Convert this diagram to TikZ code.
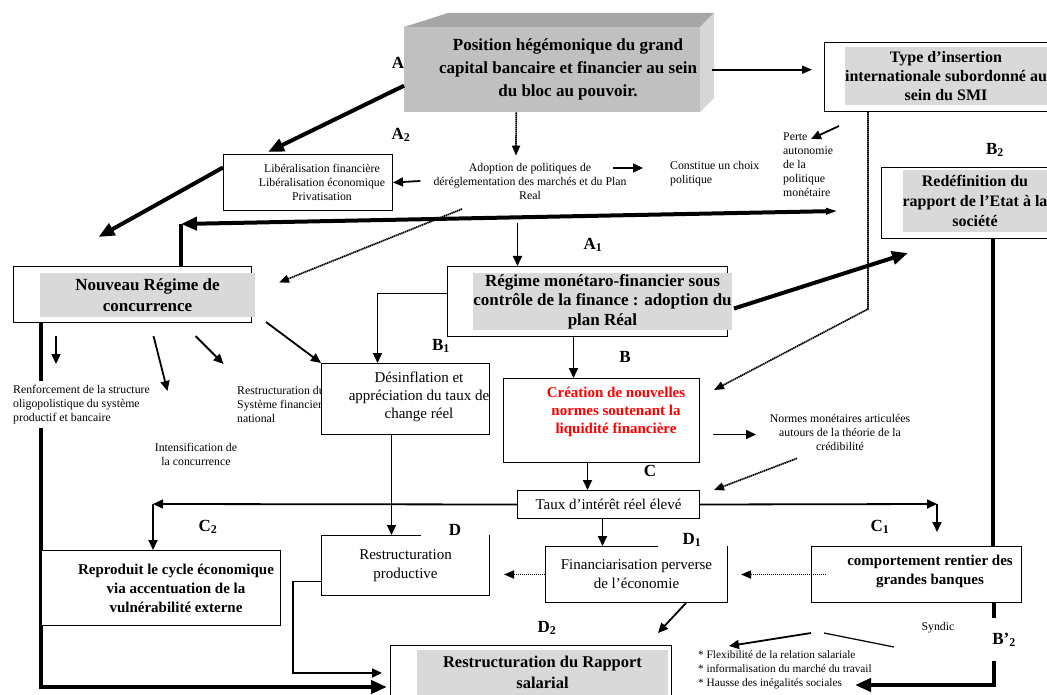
\documentclass[tikz,border=0pt]{standalone}
\usepackage{fontspec}
\setmainfont{Liberation Serif}
\usetikzlibrary{arrows.meta,positioning,backgrounds}
\definecolor{frontgrey}{HTML}{C0C0C0}
\definecolor{topgrey}{HTML}{A6A6A6}
\definecolor{sidegrey}{HTML}{D6D6D6}
\definecolor{shadegrey}{HTML}{D9D9D9}

\begin{document}
\begin{tikzpicture}[x=1pt,y=-1pt,
  frame/.style={draw,fill=white,line width=1pt,inner sep=0pt,anchor=north west},
  shade/.style={fill=shadegrey,inner sep=0pt,align=center},
  txt/.style={font=\fontsize{15}{18}\selectfont,align=center,inner sep=1pt},
  btxt/.style={font=\fontsize{15}{19}\selectfont\bfseries,align=center,inner sep=1pt},
  note/.style={font=\fontsize{11.8}{14}\selectfont,align=center,inner sep=1pt},
  lab/.style={font=\fontsize{17}{17}\selectfont\bfseries,inner sep=2pt},
  arr/.style={-{Triangle[length=10pt,width=9pt]},line width=1.8pt},
  bigarr/.style={-{Triangle[length=16pt,width=13pt]},line width=4pt},
  bigline/.style={line width=4pt},
  dotarr/.style={-{Triangle[length=10pt,width=8pt]},line width=1.7pt,dash pattern=on 1.4pt off 0.6pt}]
  \useasboundingbox (0,0) rectangle (1047,695);

  % hegemonic block, a box seen with depth
  \fill[topgrey] (404,27) -- (448,13) -- (714,13) -- (700,27) -- cycle;
  \fill[sidegrey] (700,27) -- (714,13) -- (714,98) -- (700,112) -- cycle;
  \node[fill=frontgrey,inner sep=0pt,anchor=north west,minimum width=296pt,minimum height=85pt] (pos) at (404,27) {};
  \node[font=\fontsize{17}{23}\selectfont\bfseries,align=center] (postxt) at (568,69)
    {Position hégémonique du grand\\capital bancaire et financier au sein\\du bloc au pouvoir.};

  % boxes
  \node[frame,minimum width=240pt,minimum height=69pt] (type) at (824,42) {};
  \node[shade,minimum width=198pt,minimum height=58pt,font=\fontsize{16}{19}\selectfont\bfseries] (typetxt) at (946,76)
    {Type d’insertion\\internationale subordonné au\\sein du SMI};
  \node[frame,minimum width=180pt,minimum height=71pt] (redef) at (881,167) {};
  \node[shade,minimum width=142pt,minimum height=62pt,font=\fontsize{16}{20}\selectfont\bfseries] (redeftxt) at (975,201)
    {Redéfinition du\\rapport de l’Etat à la\\société};
  \node[frame,minimum width=169pt,minimum height=56pt] (lib) at (223,154) {};
  \node[note] (libtxt) at (322,182) {Libéralisation financière\\Libéralisation économique\\Privatisation};
  \node[frame,minimum width=238pt,minimum height=56pt] (nouv) at (13,266) {};
  \node[shade,minimum width=215pt,minimum height=44pt,font=\fontsize{17}{21}\selectfont\bfseries] (nouvtxt) at (147.5,295)
    {Nouveau Régime de\\concurrence};
  \node[frame,minimum width=280pt,minimum height=70pt] (reg) at (447,266) {};
  \node[shade,minimum width=257pt,minimum height=57pt,font=\fontsize{17}{19.5}\selectfont\bfseries] (regtxt) at (602.5,301.5)
    {Régime monétaro-financier sous\\contrôle de la finance : adoption du\\plan Réal};
  \node[frame,minimum width=168pt,minimum height=71pt] (des) at (321,363) {};
  \node[txt] (destxt) at (419,397) {Désinflation et\\appréciation du taux de\\change réel};
  \node[frame,minimum width=196pt,minimum height=84pt] (cre) at (503,378) {};
  \node[btxt,text=red,font=\fontsize{15}{18}\selectfont\bfseries] (cretxt) at (616,412)
    {Création de nouvelles\\normes soutenant la\\liquidité financière};
  \node[frame,minimum width=182pt,minimum height=28pt,txt] (taux) at (517,490) {Taux d’intérêt réel élevé};
  \node[frame,minimum width=239pt,minimum height=75pt] (repro) at (41,550) {};
  \node[btxt] (reprotxt) at (176,588) {Reproduit le cycle économique\\via accentuation de la\\vulnérabilité externe};
  \node[frame,minimum width=168pt,minimum height=60pt,txt,font=\fontsize{15}{19}\selectfont] (dbox) at (321,535)
    {Restructuration\\productive};
  \node[frame,minimum width=182pt,minimum height=56pt,txt,font=\fontsize{15}{19}\selectfont] (fin) at (545,546)
    {Financiarisation perverse\\de l’économie};
  \node[frame,minimum width=210pt,minimum height=56pt] (comp) at (811,546) {};
  \node[btxt] (comptxt) at (930,571.5) {comportement rentier des\\grandes banques};
  \node[frame,minimum width=281pt,minimum height=65pt] (rapp) at (390,645) {};
  \node[shade,minimum width=251pt,minimum height=45pt,font=\fontsize{16.5}{21}\selectfont\bfseries] (rapptxt) at (542.5,672.5)
    {Restructuration du Rapport\\salarial};

  % free texts
  \node[note] (adopt) at (530,181) {Adoption de politiques de\\déréglementation des marchés et du Plan\\Real};
  \node[note,anchor=west,align=left] (choix) at (669,174) {Constitue un choix\\politique};
  \node[note,anchor=north west,align=left] (perte) at (782,132) {Perte\\autonomie\\de la\\politique\\monétaire};
  \node[note,anchor=north west,align=left,fill=white,inner ysep=4pt] (renf) at (12,381)
    {Renforcement de la structure\\oligopolistique du système\\productif et bancaire};
  \node[note] (intens) at (196,454) {Intensification de\\la concurrence};
  \node[note] (normes) at (840,432) {Normes monétaires articulées\\autours de la théorie de la\\crédibilité};
  \node[note] (syndic) at (938,628) {Syndic};
  \node[note,anchor=north west,align=left,font=\fontsize{11.3}{14}\selectfont] (bul) at (697,649)
    {* Flexibilité de la relation salariale\\* informalisation du marché du travail\\* Hausse des inégalités sociales};

  \begin{scope}[on background layer]
    \fill[white] (0,0) rectangle (1047,695);
    \node[note,anchor=north west,align=left] (restsf) at (236,385) {Restructuration du\\Système financier\\national};
    \draw[bigarr] ([xshift=28pt]nouv.south west) |- ([xshift=-3pt,yshift=-9pt]rapp.west);
    \draw[bigline] ([xshift=21pt]redef.south) -- ([xshift=76pt]comp.north);
  \end{scope}

  % connectors
  \coordinate (polend) at (838,211);
  \coordinate (kink) at (181,224);
  \coordinate (tl) at (153,504);
  \coordinate (tr) at (937,504);
  \coordinate (hausse) at (855,685);
  \coordinate (forkl) at (811,633);
  \coordinate (forkr) at (824,633);

  \draw[bigarr] ([yshift=-16pt]pos.west) -- ([xshift=-40pt,yshift=2pt]lib.north);
  \draw[bigarr] ([yshift=15pt]lib.west) -- ([xshift=-34pt,yshift=29pt]nouv.north);
  \draw[dotarr] ([xshift=-36pt]pos.south) -- ([xshift=-14pt,yshift=6pt]adopt.north);
  \draw[dotarr] ([xshift=12pt]pos.east) -- ([xshift=-12pt]pos.east -| type.west);
  \draw[arr] ([xshift=-12pt]adopt.west) -- (lib.east);
  \draw[arr] ([xshift=83pt,yshift=13pt]adopt.center) -- ([xshift=-26pt,yshift=6pt]choix.west);
  \draw[arr] ([xshift=15pt,yshift=-14pt]type.south west) -- ([xshift=29pt,yshift=-7pt]perte.north west);
  \draw[bigline,{Triangle[length=12pt,width=6pt]}-{Triangle[length=16pt,width=13pt]}] (polend) -- (kink);
  \draw[bigline] (kink) -- (kink |- nouv.north);
  \draw[dotarr] ([xshift=-68pt,yshift=-28pt]adopt.center) -- ([xshift=27pt,yshift=12pt]nouv.east);
  \draw[arr] ([xshift=-70pt,yshift=43pt]reg.north) -- ([xshift=-70pt]reg.north);
  \draw[arr] ([yshift=8pt]reg.west) -| ([xshift=-28pt]des.north);
  \draw[arr] ([xshift=-14pt]reg.south) -- ([xshift=-28pt]cre.north);
  \draw[bigarr] ([xshift=6pt,yshift=-7pt]reg.east) -- ([xshift=27pt,yshift=-14pt]redef.south west);
  \draw[dotarr] ([xshift=44pt]type.south west) -- ++(0,197) -- ([xshift=14pt,yshift=-12pt]cre.north east);
  \draw[arr] ([xshift=43pt,yshift=-13pt]nouv.south west) -- ([xshift=43pt,yshift=-41pt]nouv.south west);
  \draw[arr] ([xshift=21pt,yshift=-13pt]nouv.south) -- ([xshift=35pt,yshift=-68pt]nouv.south);
  \draw[arr] ([xshift=63pt,yshift=-13pt]nouv.south) -- ([xshift=91pt,yshift=-41pt]nouv.south);
  \draw[arr] ([xshift=14pt,yshift=1pt]nouv.south east) -- (des.north west);
  \draw[arr] ([xshift=-14pt]des.south) -- ([xshift=-14pt]dbox.north);
  \draw[arr] ([xshift=-14pt]cre.south) -- ([xshift=-21pt]taux.north);
  \draw[arr] ([xshift=13pt,yshift=-14pt]cre.east) -- ([xshift=56pt,yshift=-14pt]cre.east);
  \draw[dotarr] ([xshift=-43pt,yshift=-7pt]normes.south) -- ([xshift=14pt]taux.north east);
  \draw[arr] (taux.west) -- (tl);
  \draw[arr] (tl) -- (tl |- repro.north);
  \draw[arr] (taux.east) -- (tr);
  \draw[arr] (tr) -- ++(0,28);
  \draw[arr] ([xshift=-6pt]taux.south) -- ([xshift=-34pt]fin.north);
  \draw[arr] ([yshift=-16pt]dbox.west) -- ++(-28,0) |- ([xshift=-8pt,yshift=5pt]rapp.west);
  \draw[dotarr] (fin.west) -- ([xshift=14pt,yshift=-9pt]dbox.east);
  \draw[dotarr] ([xshift=15pt]comp.west) -- ([xshift=13pt]fin.east);
  \draw[arr] ([xshift=-42pt]fin.south east) -- ([xshift=-14pt,yshift=12pt]rapp.north east);
  \draw[bigline] ([xshift=77pt]comp.south) -- ++(0,15);
  \draw[bigarr] ([xshift=77pt,yshift=-58pt]comp.south) |- (hausse);
  \draw[arr] (forkl) -- ([xshift=32pt,yshift=3pt]bul.north west);
  \draw[line width=1.2pt] (forkr) -- ([xshift=-44pt,yshift=-19pt]syndic.center);

  % stage letters
  \node[lab] (la) at (398,63) {A};
  \node[lab] (la2) at (401,135) {A\textsubscript{2}};
  \node[lab] (la1) at (593,245) {A\textsubscript{1}};
  \node[lab] (lb2) at (995,150) {B\textsubscript{2}};
  \node[lab] (lb1) at (441,346) {B\textsubscript{1}};
  \node[lab] (lb) at (625,357) {B};
  \node[lab,fill=white,minimum width=94pt] (lc) at (650,471) {C};
  \node[lab,fill=white,minimum width=68pt] (ld) at (455,530) {D};
  \node[lab,fill=white,minimum width=69pt] (ld1) at (692,540) {D\textsubscript{1}};
  \node[lab] (lc1) at (880,527) {C\textsubscript{1}};
  \node[lab] (lc2) at (208,527) {C\textsubscript{2}};
  \node[lab] (ld2) at (547,628) {D\textsubscript{2}};
  \node[lab] (lbb2) at (1004,640) {B’\textsubscript{2}};
\end{tikzpicture}
\end{document}
